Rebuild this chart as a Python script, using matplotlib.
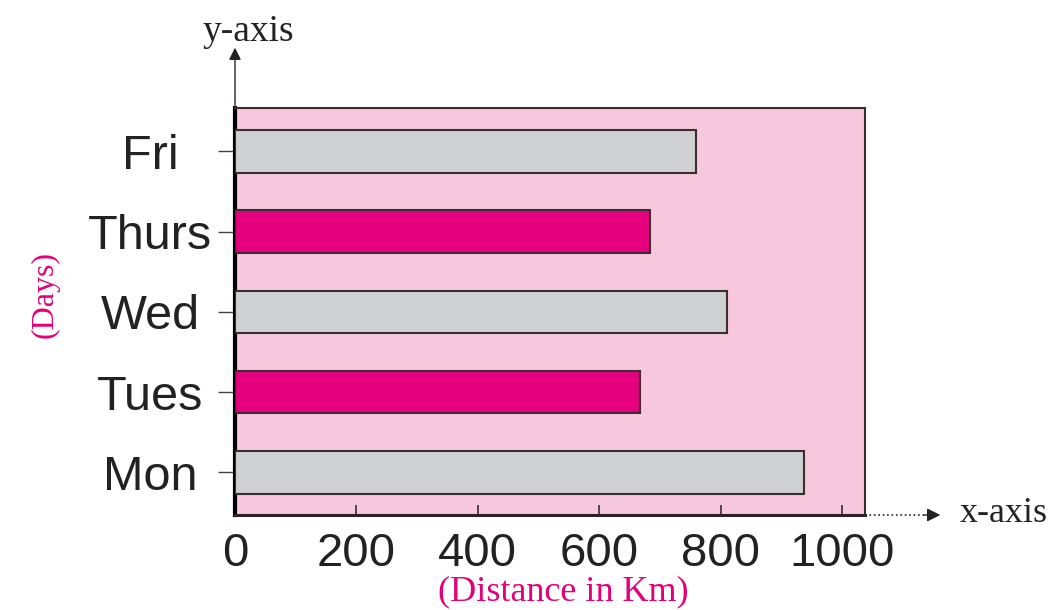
import matplotlib
matplotlib.use("Agg")
import matplotlib.pyplot as plt
from matplotlib.patches import FancyArrowPatch

# Data
days = ["Mon", "Tues", "Wed", "Thurs", "Fri"]
distances = [938, 667, 810, 683, 759]
bar_colors = ["#CFD0D2", "#E5007E", "#CFD0D2", "#E5007E", "#CFD0D2"]
xticks = [0, 200, 400, 600, 800, 1000]

fig = plt.figure(figsize=(10.52, 6.10), dpi=100)
ax = fig.add_axes([235/1052, 1-515/610, 630/1052, 407/610])
ax.set_facecolor("#F7C7DD")

ypos = list(range(len(days)))
ax.barh(ypos, distances, height=0.53, color=bar_colors,
        edgecolor="#3A2E33", linewidth=1.5, zorder=3)

ax.set_xlim(0, 1038)
ax.set_ylim(-0.53, 4.54)

ax.set_xticks(xticks)
ax.set_xticklabels([str(v) for v in xticks], fontsize=34,
                   family="Liberation Sans", color="#222222")
ax.set_yticks(ypos)
ax.set_yticklabels(days, fontsize=35, family="Liberation Sans",
                   color="#222222", ha="center")

ax.tick_params(axis="x", direction="in", length=7, width=1.2,
               color="#3A2E33", pad=12)
ax.tick_params(axis="y", direction="out", length=12, width=1.0,
               color="#444444", pad=49)

for s in ["top", "right"]:
    ax.spines[s].set_color("#3A2E33")
    ax.spines[s].set_linewidth(1.5)
ax.spines["bottom"].set_color("#2A2226")
ax.spines["bottom"].set_linewidth(2.2)
ax.spines["left"].set_color("#000000")
ax.spines["left"].set_linewidth(3.0)

# y-axis arrow
ya = FancyArrowPatch((0, 1.0), (0, 1.155), transform=ax.transAxes,
                     arrowstyle="-|>", mutation_scale=18, color="#222222",
                     linewidth=1.0, clip_on=False)
ax.add_artist(ya)
# x-axis dotted extension and arrow
ax.plot([1.0, 1.10], [0, 0], transform=ax.transAxes, linestyle=":",
        color="#222222", linewidth=1.2, clip_on=False)
xa = FancyArrowPatch((1.09, 0), (1.124, 0), transform=ax.transAxes,
                     arrowstyle="-|>", mutation_scale=20, color="#222222",
                     linewidth=1.0, clip_on=False)
ax.add_artist(xa)

fig.text(960/1052, 1-513/610, "x-axis", fontsize=26, family="Liberation Serif",
         color="#222222", ha="left", va="center")
fig.text(248/1052, 1-32/610, "y-axis", fontsize=27, family="Liberation Serif",
         color="#222222", ha="center", va="center")

fig.text(563/1052, 1-592/610, "(Distance in Km)", fontsize=26,
         family="Liberation Serif", color="#E3007B", ha="center", va="center")
fig.text(45/1052, 1-295/610, "(Days)", fontsize=23, rotation=90,
         family="Liberation Serif", color="#E3007B", ha="center", va="center")

fig.savefig("out.png", dpi=100)
